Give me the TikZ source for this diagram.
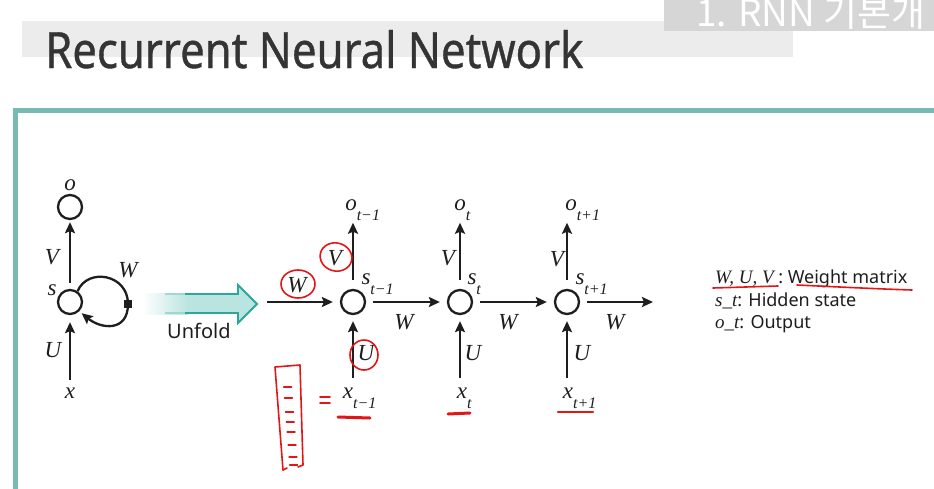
\documentclass[tikz,border=0pt]{standalone}
\usepackage{graphicx}
\usepackage{fontspec}
\setmainfont{Liberation Serif}
\newfontfamily\uisans{Noto Sans}
\newfontfamily\titlesans[FakeBold=0.8]{Noto Sans}
\newfontfamily\krsans{Noto Sans CJK KR}
\usetikzlibrary{arrows.meta}

\definecolor{frameteal}{RGB}{122,186,181}
\definecolor{arrowteal}{RGB}{40,168,158}
\definecolor{arrowfill}{RGB}{186,228,224}
\definecolor{penred}{RGB}{226,22,22}
\definecolor{titlegray}{RGB}{52,52,52}
\definecolor{bandgray}{RGB}{236,236,236}
\definecolor{tabgray}{RGB}{214,214,214}
\definecolor{inkgray}{RGB}{30,30,30}

% italic letter with a lowered subscript that does not change the node size
\newcommand\rnnsub[2]{{\itshape #1}\rlap{\smash{\raisebox{-10pt}{\fontsize{16}{16}\selectfont\itshape #2}}}}
% serif italic used for symbols inside the legend
\newcommand\legsym{\fontsize{19}{19}\rmfamily\itshape}

\begin{document}
\begin{tikzpicture}[x=1pt,y=-1pt,
  lab/.style={font=\fontsize{23}{23}\selectfont\itshape, inner sep=0pt, text=inkgray},
  unit/.style={circle, draw=inkgray, line width=2.3pt, minimum size=24pt, inner sep=0pt, fill=white},
  flow/.style={draw=inkgray, line width=2.3pt, -{Stealth[length=11pt,width=10pt,inset=2pt]}},
  pen/.style={draw=penred, line width=1.6pt, line cap=round, line join=round},
  legend/.style={anchor=base west, inner sep=0pt, font=\fontsize{18}{18}\uisans, text=inkgray},
]
\useasboundingbox (0,0) rectangle (934,488);
\fill[white] (0,0) rectangle (934,488);

% header: grey band, title and section tab
\fill[bandgray] (22,21) rectangle (793,57);
\node[anchor=base west, inner sep=0pt, text=titlegray] (title) at (45,68)
  {\resizebox{538pt}{38pt}{\titlesans Recurrent Neural Network}};
\fill[tabgray] (664,-1) rectangle (935,31);
\begin{scope}
  \clip (664,0) rectangle (934,31);
  \node[anchor=base west, inner sep=0pt, text=white, font=\fontsize{37}{37}\krsans] (tabtext) at (696,26) {1. RNN 기본개};
\end{scope}

% content frame
\draw[frameteal, line width=5pt] (15,492) -- (15,110) -- (938,110);

% folded network
\node[unit] (o0) at (70,207) {};
\node[unit] (s0) at (70,302) {};
\node[lab] (olab0) at (70,185) {o};
\node[lab] (vlab0) at (52,257) {V};
\node[lab] (slab0) at (52,290) {s};
\node[lab] (wlab0) at (128,270) {W};
\node[lab] (ulab0) at (53,350) {U};
\node[lab] (x0) at (70,393) {x};
\node[fill=inkgray, minimum size=8pt, inner sep=0pt] (sq) at (128,304) {};
\draw[flow, shorten <=6pt, shorten >=2pt] (s0) -- (o0);
\draw[flow, shorten <=8pt, shorten >=7pt] (x0) -- (s0);
\draw[draw=inkgray, line width=2.3pt] (s0.55) .. controls +(10,-24) and +(0,-30) .. (sq.center);
\draw[flow, shorten >=3pt] (sq.center) .. controls +(0,28) and +(22,18) .. (s0.-45);
\node[fill=inkgray, minimum size=8pt, inner sep=0pt] at (sq) {};

% unfold arrow
\fill[arrowfill] (143,294) -- (238,294) -- (238,285) -- (257,304) -- (238,323) -- (238,313) -- (143,313) -- cycle;
\shade[left color=white, right color=arrowfill] (142,293) rectangle (188,314);
\draw[arrowteal!45, line width=1.6pt] (165,294) -- (185,294) (165,313) -- (185,313);
\draw[arrowteal, line width=1.8pt, line join=miter] (185,294) -- (238,294) -- (238,285) -- (257,304) -- (238,323) -- (238,313) -- (185,313);
\node[anchor=base west, inner sep=0pt, font=\fontsize{20}{20}\uisans, text=inkgray] (unfoldlab) at (167,338) {Unfold};

% unfolded network
\node[unit] (s1) at (353,302) {};
\node[unit] (s2) at (460,302) {};
\node[unit] (s3) at (567,302) {};
\coordinate (in) at (267,302);
\coordinate (out) at (653,302);

\node[lab] (o1) at (351,205) {\rnnsub{o}{t−1}};
\node[lab] (o2) at (460,205) {\rnnsub{o}{t}};
\node[lab] (o3) at (571,205) {\rnnsub{o}{t+1}};
\node[lab] (sl1) at (366,279) {\rnnsub{s}{t−1}};
\node[lab] (sl2) at (472,279) {\rnnsub{s}{t}};
\node[lab] (sl3) at (580,279) {\rnnsub{s}{t+1}};
\node[lab] (x1) at (348,393) {\rnnsub{x}{t−1}};
\node[lab] (x2) at (462,393) {\rnnsub{x}{t}};
\node[lab] (x3) at (568,393) {\rnnsub{x}{t+1}};
\node[lab] (v1) at (335,258) {V};
\node[lab] (v2) at (448,258) {V};
\node[lab] (v3) at (557,259) {V};
\node[lab] (u1) at (366,353) {U};
\node[lab] (u2) at (473,353) {U};
\node[lab] (u3) at (582,353) {U};
\node[lab] (w0) at (297,285) {W};
\node[lab] (w1) at (404,322) {W};
\node[lab] (w2) at (508,322) {W};
\node[lab] (w3) at (615,322) {W};

\draw[flow, shorten >=7pt] (in) -- (s1);
\draw[flow, shorten <=7pt, shorten >=7pt] (s1) -- (s2);
\draw[flow, shorten <=7pt, shorten >=7pt] (s2) -- (s3);
\draw[flow, shorten <=7pt] (s3) -- (out);
\foreach \i in {1,2,3}{
  \draw[flow, shorten <=9pt, shorten >=12pt] (s\i) -- (s\i |- o\i.south);
  \draw[flow, shorten <=10pt, shorten >=6pt] (s\i |- x\i.north) -- (s\i);
}

% legend
\node[legend] (leg1) at (715,283) {{\legsym W, U, V} : Weight matrix};
\node[legend] (leg2) at (715,306) {{\legsym s\_t}: Hidden state};
\node[legend] (leg3) at (715,328) {{\legsym o\_t}: Output};

% hand-drawn pen marks
\draw[pen] (298,284) ellipse [x radius=17pt, y radius=14pt];
\draw[pen, rotate around={-15:(336,257)}] (336,257) ellipse [x radius=16pt, y radius=14pt];
\draw[pen] (364,355) ellipse [x radius=14pt, y radius=15pt];
\draw[pen, line width=3pt] (338,417) -- (370,418);
\draw[pen, line width=3pt] (448,414) -- (470,413);
\draw[pen, line width=2.4pt] (558,412) -- (593,412);
\draw[pen] (320,397) -- (330,397) (320,403) -- (330,403);
\draw[pen] (283,470) -- (275,367) -- (300,365) -- (303,465) -- (298,467);
\draw[pen] (283,470) -- (287,468);
\foreach \yy in {387,398,412,422,432,445,457,465}{
  \draw[pen, line width=1.2pt] ({282+0.078*(\yy-367)},\yy) -- ({290+0.078*(\yy-367)},\yy);
}
\draw[pen] (713,288) -- (778,286);
\draw[pen] (797,285) .. controls (840,287) and (880,289) .. (912,290);
\end{tikzpicture}
\end{document}
